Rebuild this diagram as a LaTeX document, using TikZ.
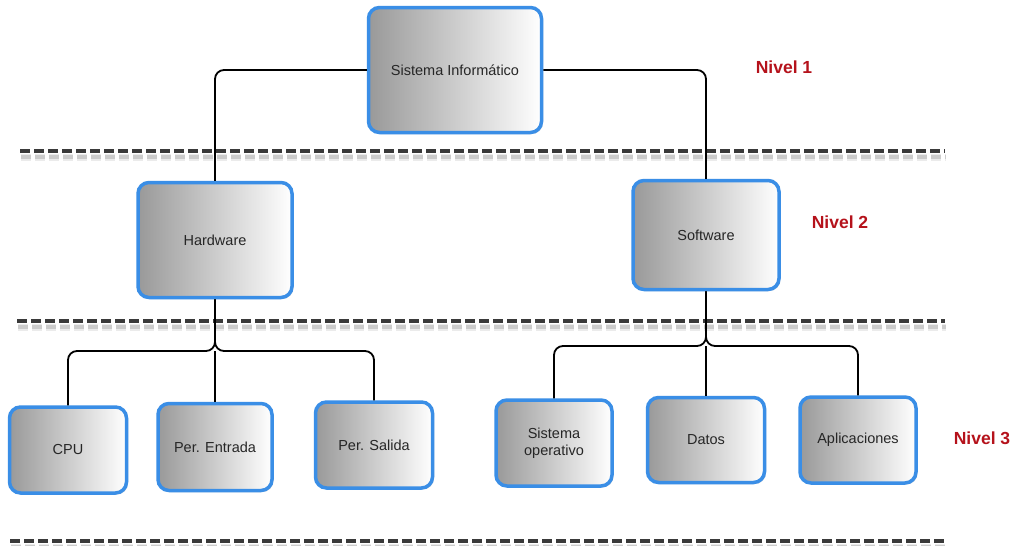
\documentclass[tikz,border=0pt]{standalone}
\usepackage{fontspec}
\setmainfont{Liberation Sans}
\usetikzlibrary{shadows}
\definecolor{boxblue}{HTML}{3A8EE6}
\definecolor{nivred}{HTML}{B5121B}
\definecolor{dashgray}{HTML}{3A3A3A}
\tikzset{
  box/.style={draw=boxblue, line width=3.5pt, rounded corners=11pt,
    left color=black!40, right color=white, shading angle=90,
    drop shadow={shadow xshift=1.5pt, shadow yshift=-1.5pt, opacity=0.22, fill=black!60},
    font=\fontsize{14.5}{17}\selectfont, text=black!85, align=center, inner sep=0pt},
  conn/.style={draw=black, line width=1.8pt, rounded corners=9pt},
  levelsep/.style={draw=dashgray, line width=4.5pt, dash pattern=on 10pt off 4pt},
  levelshadowa/.style={draw=black!8, line width=7pt, dash pattern=on 10pt off 4pt},
  levelshadowb/.style={draw=black!20, line width=3.5pt, dash pattern=on 10pt off 4pt},
  nivel/.style={text=nivred, font=\bfseries\fontsize{17.5}{20}\selectfont}
}
\begin{document}
\begin{tikzpicture}[x=1pt, y=-1pt]
\useasboundingbox[fill=white] (0,0) rectangle (1012,546);
% level separators
\foreach \yy/\xa in {151/20, 321/17, 541/10}{
  \draw[levelshadowa] (\xa+1,\yy+6) -- (946,\yy+6);
  \draw[levelshadowb] (\xa+1,\yy+6) -- (946,\yy+6);
  \draw[levelsep] (\xa,\yy) -- (945,\yy);
}
% connectors
\coordinate (hb) at (215,351);
\coordinate (sb) at (706,346);
% nodes
\node[box, minimum width=173pt, minimum height=125pt] (si) at (455,70) {Sistema Informático};
\node[box, minimum width=154pt, minimum height=115pt] (hw) at (215,240) {Hardware};
\node[box, minimum width=146pt, minimum height=109pt] (sw) at (706,235) {Software};
\node[box, minimum width=117pt, minimum height=86pt] (cpu) at (68,450) {CPU};
\node[box, minimum width=114pt, minimum height=87pt] (pe) at (215,447) {Per. Entrada};
\node[box, minimum width=117pt, minimum height=86pt] (ps) at (374,445) {Per. Salida};
\node[box, minimum width=116pt, minimum height=86pt] (so) at (554,443) {Sistema\\operativo};
\node[box, minimum width=117pt, minimum height=85pt] (da) at (706,440) {Datos};
\node[box, minimum width=116pt, minimum height=86pt] (ap) at (858,440) {Aplicaciones};
% level labels
\node[nivel] (n1) at (784,67) {Nivel 1};
\node[nivel] (n2) at (840,222) {Nivel 2};
\node[nivel] (n3) at (982,438) {Nivel 3};
% connectors
\draw[conn] (si.west) -| (hw.north);
\draw[conn] (si.east) -| (sw.north);
\draw[conn] (hw.south) -- (hb) -| (cpu.north);
\draw[conn] (hb) -- (pe.north);
\draw[conn] (hw.south) -- (hb) -| (ps.north);
\draw[conn] (sw.south) -- (sb) -| (so.north);
\draw[conn] (sb) -- (da.north);
\draw[conn] (sw.south) -- (sb) -| (ap.north);
\end{tikzpicture}
\end{document}
